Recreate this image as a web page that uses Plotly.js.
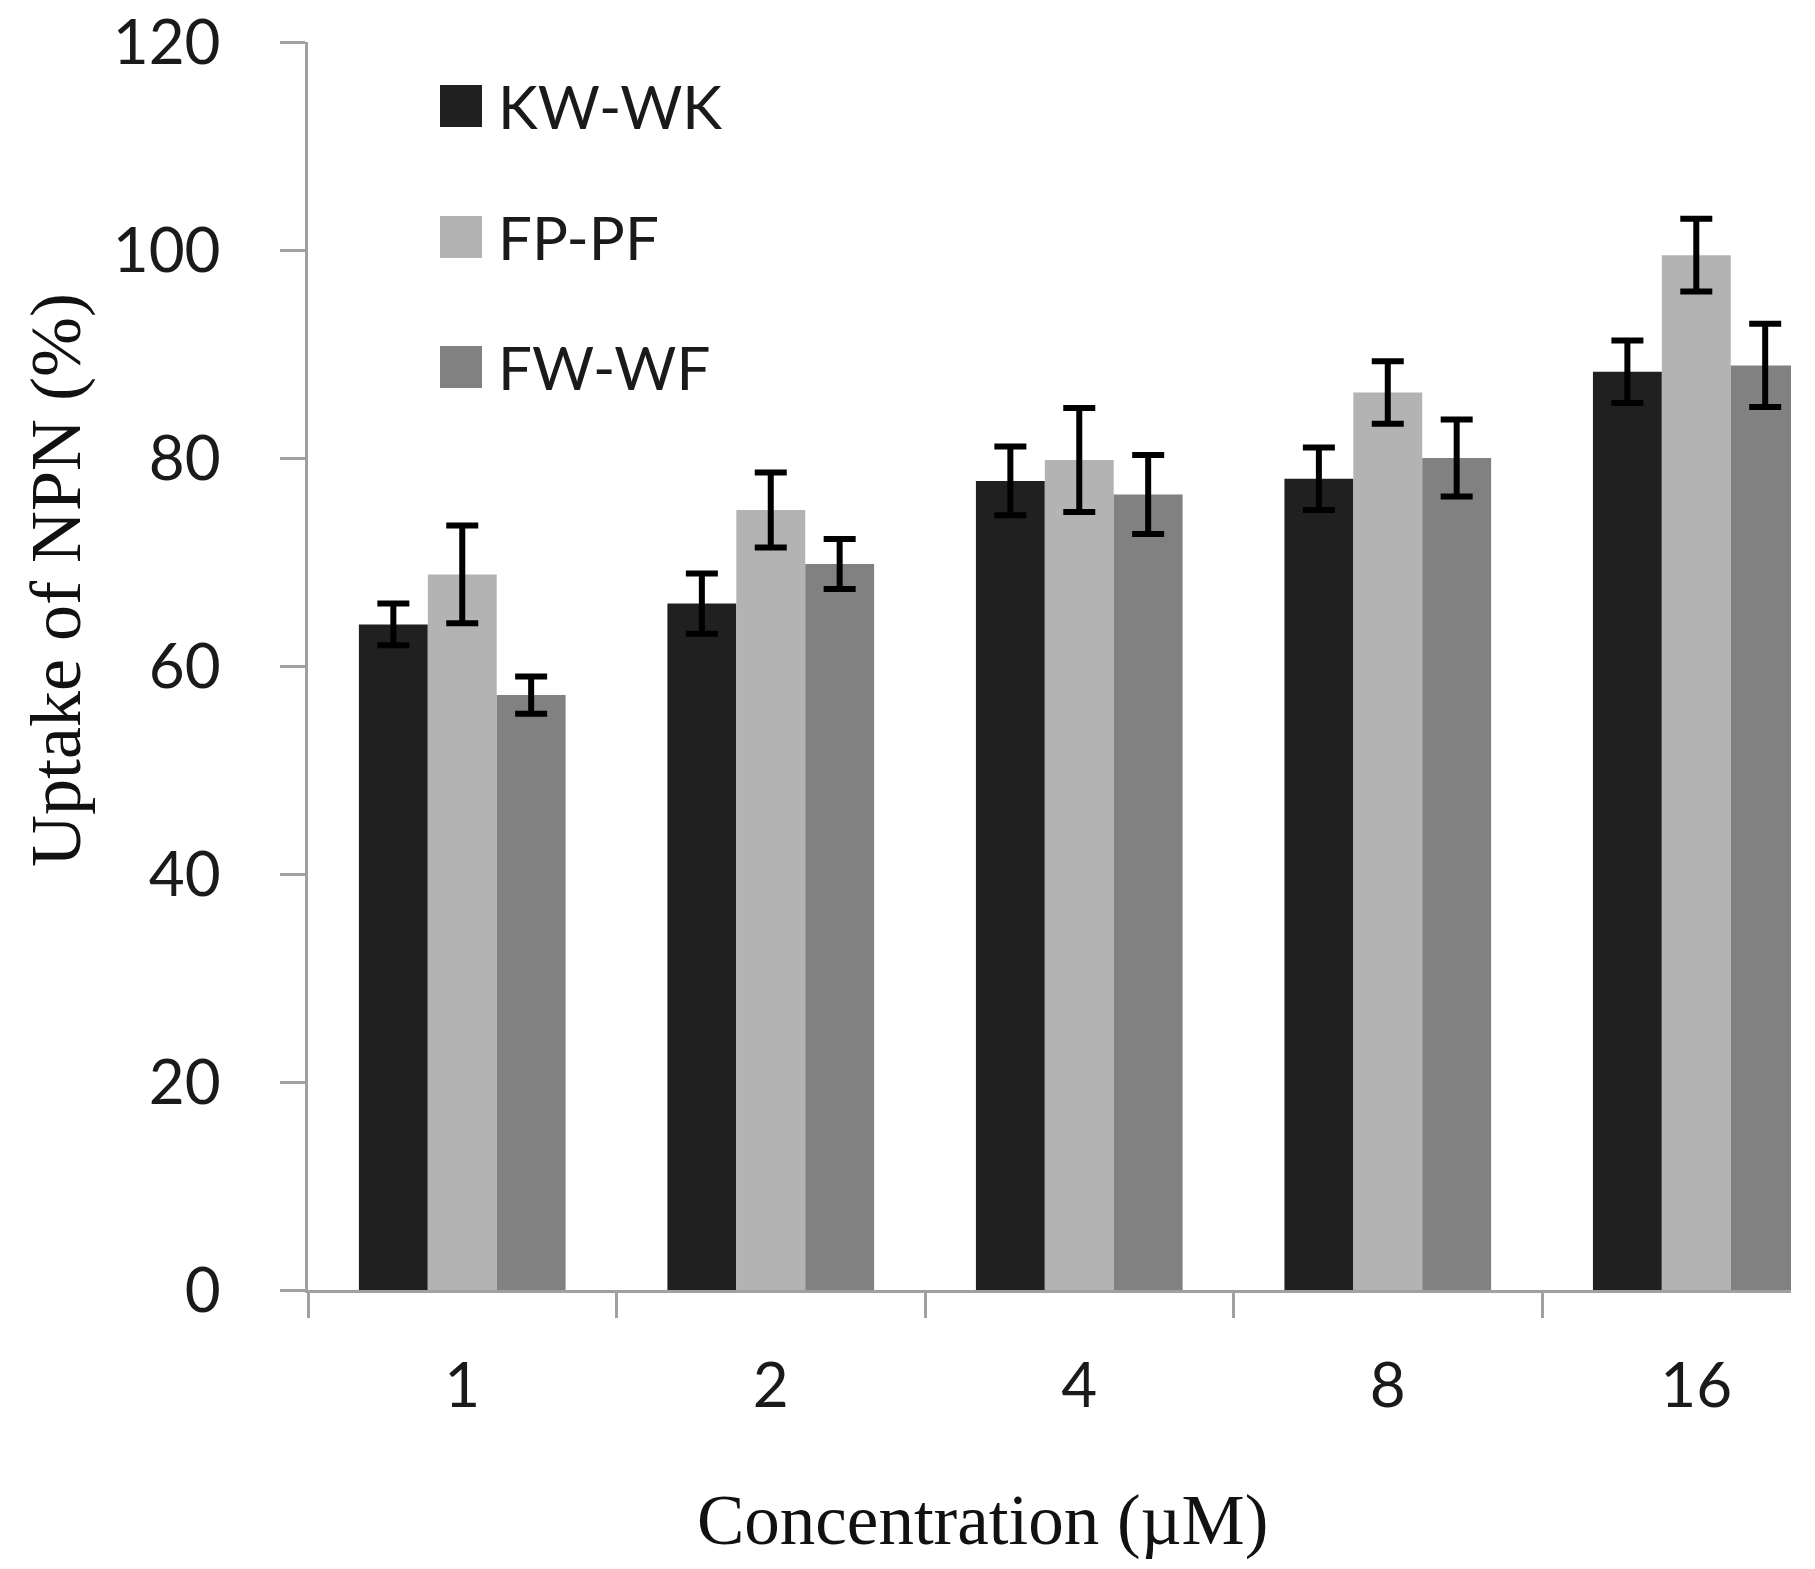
<!DOCTYPE html>
<html>
<head>
<meta charset="utf-8">
<script src="https://cdn.plot.ly/plotly-3.0.1.min.js"></script>
<style>
  html, body { margin: 0; padding: 0; background: #fff; overflow: hidden; }
  #chart { width: 1815px; height: 1569px; }
</style>
</head>
<body>
<div id="chart"></div>
<script>
// ---- data ----
const categories = ['1', '2', '4', '8', '16'];
const seriesNames = ['KW-WK', 'FP-PF', 'FW-WF'];
const kwwk = [64.0, 66.0, 77.8, 78.0, 88.3];
const kwwkErr = [2.0, 2.9, 3.3, 3.0, 3.0];
const fppf = [68.8, 75.0, 79.8, 86.3, 99.5];
const fppfErr = [4.7, 3.6, 5.0, 3.0, 3.5];
const fwwf = [57.2, 69.8, 76.5, 80.0, 88.9];
const fwwfErr = [1.8, 2.4, 3.8, 3.7, 4.0];
const yTicks = [0, 20, 40, 60, 80, 100, 120];

const colors = ['#202020', '#b3b3b3', '#818181'];
const values = [kwwk, fppf, fwwf];
const errors = [kwwkErr, fppfErr, fwwfErr];

const W = 1815, H = 1569;
const M = { l: 308, r: 24, t: 42, b: 279 };
const pw = W - M.l - M.r, ph = H - M.t - M.b;
const px2x = p => (p - M.l) / pw;
const py2y = p => (H - M.b - p) / ph;

const traces = seriesNames.map((name, i) => ({
  type: 'bar',
  name: name,
  x: categories,
  y: values[i],
  marker: { color: colors[i], line: { width: 0 } },
  error_y: { type: 'data', array: errors[i], visible: true, color: '#000000', thickness: 6, width: 16 },
  showlegend: false
}));

// manual legend (large swatches like the original)
const legendRows = [106, 237, 367];
const shapes = [];
const annotations = [];
seriesNames.forEach((name, i) => {
  const cy = legendRows[i];
  shapes.push({
    type: 'rect', xref: 'paper', yref: 'paper',
    x0: px2x(440), x1: px2x(482), y0: py2y(cy + 21), y1: py2y(cy - 21),
    fillcolor: colors[i], line: { width: 0 }
  });
  annotations.push({
    xref: 'paper', yref: 'paper', x: px2x(496), y: py2y(cy),
    xanchor: 'left', yanchor: 'middle', showarrow: false,
    text: name, font: { family: 'Lato, "Open Sans", sans-serif', size: 60, color: '#1a1a1a' }
  });
});
// axis titles positioned as in the reference
annotations.push({
  xref: 'paper', yref: 'paper', x: px2x(982), y: py2y(1521),
  xanchor: 'center', yanchor: 'middle', showarrow: false,
  text: 'Concentration (\u00b5M)',
  font: { family: '"Liberation Serif", "Times New Roman", serif', size: 71, color: '#111' }
});
annotations.push({
  xref: 'paper', yref: 'paper', x: px2x(56), y: py2y(580),
  xanchor: 'center', yanchor: 'middle', showarrow: false, textangle: -90,
  text: 'Uptake of NPN (%)',
  font: { family: '"Liberation Serif", "Times New Roman", serif', size: 72, color: '#111' }
});

const layout = {
  width: W, height: H,
  margin: M,
  paper_bgcolor: '#ffffff', plot_bgcolor: '#ffffff',
  barmode: 'group', bargap: 0.33, bargroupgap: 0,
  showlegend: false,
  xaxis: {
    type: 'category', categoryorder: 'array', categoryarray: categories,
    range: [-0.5, 4.307], fixedrange: true,
    showline: true, linecolor: '#a0a0a0', linewidth: 3,
    ticks: 'outside', tickson: 'boundaries', ticklen: 25, tickwidth: 3, tickcolor: '#a0a0a0',
    showgrid: false, zeroline: false,
    ticklabelstandoff: 40,
    tickfont: { family: 'Lato, "Open Sans", sans-serif', size: 62, color: '#1a1a1a' }
  },
  yaxis: {
    range: [0, 120], tickvals: yTicks, ticktext: yTicks.map(String), fixedrange: true,
    showline: true, linecolor: '#a0a0a0', linewidth: 3,
    ticks: 'outside', ticklen: 25, tickwidth: 3, tickcolor: '#a0a0a0',
    showgrid: false, zeroline: false,
    ticklabelstandoff: 47,
    tickfont: { family: 'Lato, "Open Sans", sans-serif', size: 62, color: '#1a1a1a' }
  },
  shapes: shapes,
  annotations: annotations
};

Plotly.newPlot('chart', traces, layout, { staticPlot: true, displayModeBar: false });
</script>
</body>
</html>
